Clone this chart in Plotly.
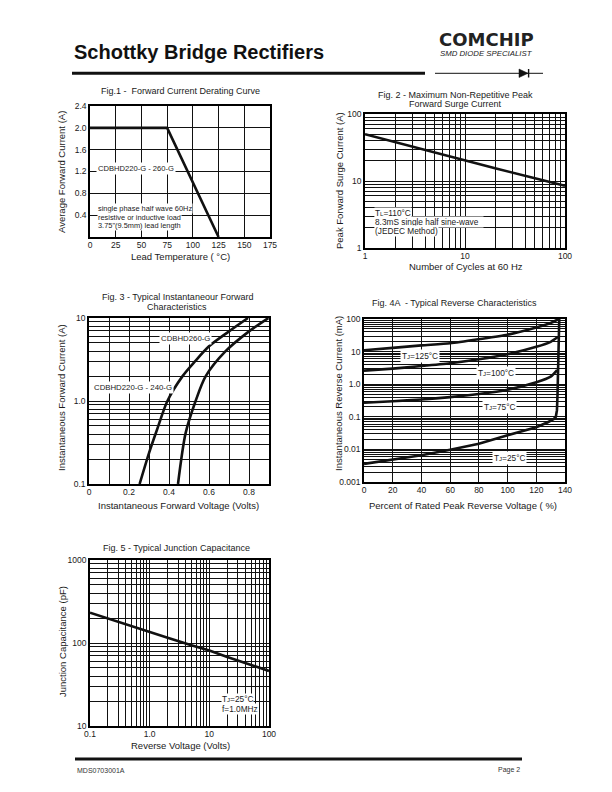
import plotly.graph_objects as go

# ---------------- data ----------------
fig1_temp_c = [0, 75, 125]
fig1_current_a = [2.0, 2.0, 0.0]
fig1_x_ticks = [0, 25, 50, 75, 100, 125, 150, 175]
fig1_x_labels = ["0", "25", "50", "75", "100", "125", "150", "175"]
fig1_y_ticks = [0.4, 0.8, 1.2, 1.6, 2.0, 2.4]
fig1_y_labels = ["0.4", "0.8", "1.2", "1.6", "2.0", "2.4"]

fig2_cycles = [1, 2, 5, 10, 20, 50, 100]
fig2_surge_a = [50, 38, 27, 20.5, 15.5, 11, 8.5]
fig2_x_label_vals = [1, 10, 100]
fig2_x_label_text = ["1", "10", "100"]
fig2_y_label_vals = [1, 10, 100]
fig2_y_label_text = ["1", "10", "100"]

fig3_v_220_240 = [0.253, 0.30, 0.34, 0.392, 0.467, 0.53, 0.60, 0.70, 0.795]
fig3_i_220_240 = [0.1, 0.236, 0.45, 1.0, 1.98, 3.0, 4.56, 6.9, 10]
fig3_v_260 = [0.445, 0.483, 0.533, 0.583, 0.683, 0.80, 0.897]
fig3_i_260 = [0.1, 0.41, 1.0, 1.98, 3.98, 6.9, 10]
fig3_x_ticks = [0, 0.2, 0.4, 0.6, 0.8]
fig3_x_labels = ["0", "0.2", "0.4", "0.6", "0.8"]
fig3_x_grid = [0.1, 0.3, 0.5, 0.7, 0.9]
fig3_y_label_vals = [0.1, 1, 10]
fig3_y_label_text = ["0.1", "1.0", "10"]

fig4_pct_125 = [0, 20, 40, 60, 80, 100, 120, 130, 135.5]
fig4_ma_125 = [11, 13, 15.5, 18, 24, 33, 55, 75, 100]
fig4_pct_100 = [0, 20, 40, 60, 80, 100, 120, 130, 135]
fig4_ma_100 = [2.6, 3.0, 3.6, 4.4, 5.8, 8.3, 14, 20, 28]
fig4_pct_75 = [0, 20, 40, 60, 80, 100, 120, 130, 134.5]
fig4_ma_75 = [0.27, 0.3, 0.34, 0.4, 0.5, 0.68, 1.15, 1.7, 2.7]
fig4_pct_25 = [0, 20, 40, 60, 80, 100, 120, 128, 132, 133.6, 134.4, 134.8, 135.2, 135.6, 136]
fig4_ma_25 = [0.0036, 0.0048, 0.0066, 0.0098, 0.015, 0.027, 0.048, 0.068, 0.085, 0.1, 0.16, 0.5, 3.0, 20, 100]
fig4_x_ticks = [0, 20, 40, 60, 80, 100, 120, 140]
fig4_x_labels = ["0", "20", "40", "60", "80", "100", "120", "140"]
fig4_y_label_vals = [0.001, 0.01, 0.1, 1, 10, 100]
fig4_y_label_text = ["0.001", "0.01", "0.1", "1.0", "10", "100"]

fig5_volts = [0.1, 0.2, 0.5, 1, 2, 5, 10, 20, 50, 100]
fig5_pf = [232, 197, 158, 136, 116, 94, 81, 68, 55, 46]
fig5_x_label_vals = [0.1, 1, 10, 100]
fig5_x_label_text = ["0.1", "1.0", "10", "100"]
fig5_y_label_vals = [10, 100, 1000]
fig5_y_label_text = ["10", "100", "1000"]

# ---------------- helpers ----------------
W, H = 612, 792
FONT = "Liberation Sans, Arial, sans-serif"
TXT = "#1a1a1a"


def px(x):
    return x / W


def py(y):
    return 1 - y / H


def log_grid(lo_exp, hi_exp):
    vals = []
    for e in range(lo_exp, hi_exp):
        for d in range(2, 10):
            vals.append(round(d * 10 ** e, 6))
    return vals


def axis(x0, x1, rng, tickvals, ticktext, grid=None, log=False, anchor=None, horizontal=True):
    dom = [px(x0), px(x1)] if horizontal else [py(x1), py(x0)]
    d = dict(domain=dom, range=rng, type="log" if log else "linear",
             tickmode="array", tickvals=tickvals, ticktext=ticktext,
             showgrid=True, gridcolor="#111", gridwidth=1,
             showline=True, mirror=True, linecolor="#000", linewidth=1.6,
             ticks="", zeroline=False, anchor=anchor, fixedrange=True,
             tickfont=dict(family=FONT, size=8.5, color=TXT))
    if horizontal:
        d["ticklabelstandoff"] = -1
    if grid:
        d["minor"] = dict(tickmode="array", tickvals=grid, showgrid=True,
                          gridcolor="#111", gridwidth=1, ticks="")
    return d


fig = go.Figure()
LINE = dict(color="#111", width=2.6)

fig.add_trace(go.Scatter(x=fig1_temp_c, y=fig1_current_a, mode="lines", line=LINE,
                         xaxis="x", yaxis="y"))
fig.add_trace(go.Scatter(x=fig2_cycles, y=fig2_surge_a, mode="lines", line=LINE,
                         xaxis="x2", yaxis="y2"))
fig.add_trace(go.Scatter(x=fig3_v_220_240, y=fig3_i_220_240, mode="lines",
                         line=dict(LINE, shape="spline", smoothing=0.8), xaxis="x3", yaxis="y3"))
fig.add_trace(go.Scatter(x=fig3_v_260, y=fig3_i_260, mode="lines",
                         line=dict(LINE, shape="spline", smoothing=0.8), xaxis="x3", yaxis="y3"))
for xs, ys, shp in [(fig4_pct_125, fig4_ma_125, "spline"), (fig4_pct_100, fig4_ma_100, "spline"),
                    (fig4_pct_75, fig4_ma_75, "spline"), (fig4_pct_25, fig4_ma_25, "linear")]:
    fig.add_trace(go.Scatter(x=xs, y=ys, mode="lines",
                             line=dict(LINE, shape=shp, smoothing=0.6) if shp == "spline" else LINE,
                             xaxis="x4", yaxis="y4"))
fig.add_trace(go.Scatter(x=fig5_volts, y=fig5_pf, mode="lines", line=LINE,
                         xaxis="x5", yaxis="y5"))

fig.update_layout(
    xaxis=axis(90, 270, [0, 175], fig1_x_ticks, fig1_x_labels, anchor="y"),
    yaxis=axis(106, 237, [0, 2.4], fig1_y_ticks, fig1_y_labels, anchor="x", horizontal=False),
    xaxis2=axis(365, 565, [0, 2], fig2_x_label_vals, fig2_x_label_text, log_grid(0, 2), log=True, anchor="y2"),
    yaxis2=axis(114, 248, [0, 2], fig2_y_label_vals, fig2_y_label_text, log_grid(0, 2), log=True, anchor="x2", horizontal=False),
    xaxis3=axis(89, 269, [0, 0.9], fig3_x_ticks, fig3_x_labels, fig3_x_grid, anchor="y3"),
    yaxis3=axis(318, 484, [-1, 1], fig3_y_label_vals, fig3_y_label_text, log_grid(-1, 1), log=True, anchor="x3", horizontal=False),
    xaxis4=axis(364, 565, [0, 140], fig4_x_ticks, fig4_x_labels, anchor="y4"),
    yaxis4=axis(319, 482, [-3, 2], fig4_y_label_vals, fig4_y_label_text, log_grid(-3, 2), log=True, anchor="x4", horizontal=False),
    xaxis5=axis(90, 269, [-1, 2], fig5_x_label_vals, fig5_x_label_text, log_grid(-1, 2), log=True, anchor="y5"),
    yaxis5=axis(560, 726, [1, 3], fig5_y_label_vals, fig5_y_label_text, log_grid(1, 3), log=True, anchor="x5", horizontal=False),
)

ann = []


def text(x, y, s, size=9, xanchor="center", yanchor="middle", angle=0, bg=None, bold=False,
         italic=False, family=FONT, color=TXT, pad=1):
    a = dict(x=px(x), y=py(y), xref="paper", yref="paper", text=s, showarrow=False,
             xanchor=xanchor, yanchor=yanchor, textangle=angle,
             font=dict(family=family, size=size, color=color,
                       weight="bold" if bold else "normal",
                       style="italic" if italic else "normal"),
             borderpad=pad)
    if bg:
        a["bgcolor"] = bg
    ann.append(a)


def sub(letter):
    return '<span style="font-size:6px">' + letter + '</span>'


# header / footer
text(72, 52, "Schottky Bridge Rectifiers", size=20, xanchor="left", bold=True, color="#111")
text(487, 40, "COMCHIP", size=18, bold=True, family="DejaVu Sans, sans-serif", color="#222", pad=0)
text(487, 53, "SMD DIODE SPECIALIST", size=7.8, italic=True, color="#222", pad=0)
text(75, 770, "MDS0703001A", size=7, xanchor="left", color="#333")
text(522, 770, "Page 2", size=7, xanchor="right", color="#333")

# figure titles
text(180, 91.5, "Fig.1 -  Forward Current Derating Curve", size=9)
text(455, 94.5, "Fig. 2 - Maximum Non-Repetitive Peak", size=9)
text(455, 104, "Forward Surge Current", size=9)
text(177, 297, "Fig. 3 - Typical Instantaneour Forward", size=9)
text(177, 307, "Characteristics", size=9)
text(454, 303, "Fig. 4A  - Typical Reverse Characteristics", size=9)
text(176, 548, "Fig. 5 - Typical Junction Capacitance", size=9)

# axis titles
text(180, 256, "Lead Temperature ( \u00b0C)", size=9.5)
text(62, 172, "Average Forward Current (A)", size=9.5, angle=-90)
text(466, 266, "Number of Cycles at 60 Hz", size=9.5)
text(339, 181, "Peak Forward Surge Current (A)", size=9.5, angle=-90)
text(178, 505, "Instantaneous Forward Voltage (Volts)", size=9.5)
text(62, 398, "Instantaneous Forward Current (A)", size=9.5, angle=-90)
text(463, 505, "Percent of Rated Peak Reverse Voltage ( %)", size=9.5)
text(339, 394, "Instantaneous Reverse Current (mA)", size=9.5, angle=-90)
text(180, 745, "Reverse Voltage (Volts)", size=9.5)
text(62, 642, "Junction Capacitance (pF)", size=9.5, angle=-90)

# in-plot labels
text(96, 168, "CDBHD220-G - 260-G", size=7.6, xanchor="left", bg="white")
text(97, 209, "single phase half wave 60Hz", size=7.4, xanchor="left", bg="white", pad=0)
text(97, 217, "resistive or inductive load", size=7.4, xanchor="left", bg="white", pad=0)
text(97, 225, "3.75\"(9.5mm) lead length", size=7.4, xanchor="left", bg="white", pad=0)

text(374, 213, "T" + sub("L") + "=110\u00b0C", size=8.3, xanchor="left", bg="white", pad=0)
text(374, 222, "8.3mS single half sine-wave  ", size=8.3, xanchor="left", bg="white", pad=0)
text(374, 231.5, "(JEDEC Method)", size=8.3, xanchor="left", bg="white", pad=0)

text(159, 339, "CDBHD260-G", size=7.8, xanchor="left", bg="white")
text(92, 388, "CDBHD220-G - 240-G", size=7.8, xanchor="left", bg="white")

text(400, 356, "T" + sub("J") + "=125\u00b0C", size=8.3, xanchor="left", bg="white")
text(476, 373, "T" + sub("J") + "=100\u00b0C", size=8.3, xanchor="left", bg="white")
text(482, 407, "T" + sub("J") + "=75\u00b0C", size=8.3, xanchor="left", bg="white")
text(492, 458, "T" + sub("J") + "=25\u00b0C", size=8.3, xanchor="left", bg="white")

text(221, 698.5, "T" + sub("J") + "=25\u00b0C", size=8.3, xanchor="left", bg="white", pad=0)
text(221, 708.5, "f=1.0MHz", size=8.3, xanchor="left", bg="white", pad=0)

shapes = [
    dict(type="line", xref="paper", yref="paper", x0=px(72), x1=px(425), y0=py(73.3), y1=py(73.3),
         line=dict(color="#111", width=3)),
    dict(type="line", xref="paper", yref="paper", x0=px(435), x1=px(543), y0=py(73.3), y1=py(73.3),
         line=dict(color="#111", width=1)),
    dict(type="path", xref="paper", yref="paper",
         path=f"M {px(519)} {py(69)} L {px(519)} {py(77.5)} L {px(528)} {py(73.3)} Z",
         fillcolor="#111", line=dict(color="#111", width=0.5)),
    dict(type="line", xref="paper", yref="paper", x0=px(528.6), x1=px(528.6), y0=py(69), y1=py(77.5),
         line=dict(color="#111", width=1.4)),
    dict(type="line", xref="paper", yref="paper", x0=px(75), x1=px(522), y0=py(759), y1=py(759),
         line=dict(color="#111", width=3)),
]

fig.update_layout(
    width=W, height=H, autosize=False,
    margin=dict(l=0, r=0, t=0, b=0),
    template="none",
    paper_bgcolor="white", plot_bgcolor="white",
    showlegend=False,
    annotations=ann, shapes=shapes,
    font=dict(family=FONT, color=TXT),
)

fig.write_html("out.html", config={"displayModeBar": False},
               post_script="document.body.style.margin='0';document.body.style.overflow='hidden';")
